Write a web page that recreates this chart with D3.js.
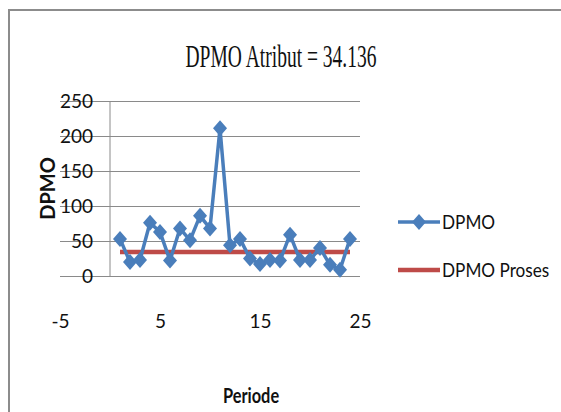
<!DOCTYPE html>
<html>
<head>
<meta charset="utf-8">
<script src="https://cdn.jsdelivr.net/npm/d3@7"></script>
<style>
  html, body { margin: 0; padding: 0; background: #fff; }
  text { fill: #111; }
</style>
</head>
<body>
<div id="chart"></div>
<script>
const width = 561;
const height = 412;

// data
const periods = [1, 2, 3, 4, 5, 6, 7, 8, 9, 10, 11, 12, 13, 14, 15, 16, 17, 18, 19, 20, 21, 22, 23, 24];
const dpmo = [53, 20, 23, 76, 63, 22, 68, 51, 86, 68, 211, 44, 53, 25, 17, 23, 22, 59, 23, 23, 40, 16, 9, 53];
const dpmoProses = 34.136;
const yTicks = [0, 50, 100, 150, 200, 250];
const xTicks = [-5, 5, 15, 25];
const seriesNames = ["DPMO", "DPMO Proses"];
const titleText = "DPMO Atribut = 34.136";

const BLUE = "#4a7ebb";
const RED = "#be4b48";
const GRID = "#8a8a8a";

var svg = d3.select("#chart").append("svg")
  .attr("width", width)
  .attr("height", height);

// outer chart frame (only left and top edges visible)
svg.append("path")
  .attr("d", "M9,412 V10 H561")
  .attr("fill", "none")
  .attr("stroke", "#8c8c8c")
  .attr("stroke-width", 2);

let xScale = d3.scaleLinear().domain([-5, 25]).range([60, 360]);
let yScale = d3.scaleLinear().domain([0, 250]).range([276, 101]);

// squeeze text horizontally (source fonts are narrow)
function squeeze(sel, sx, origin) {
  sel.style("transform-box", "fill-box")
    .style("transform-origin", origin || "center")
    .style("transform", "scaleX(" + sx + ")");
}

// horizontal gridlines
svg.append("g")
  .attr("transform", "translate(360,0)")
  .call(d3.axisLeft(yScale).tickValues(yTicks).tickSize(300).tickFormat(""))
  .call((g) => g.select(".domain").remove())
  .call((g) => g.selectAll("line").attr("stroke", GRID));

// vertical axis line at x = 0
svg.append("line")
  .attr("x1", xScale(0)).attr("x2", xScale(0))
  .attr("y1", yScale(250)).attr("y2", yScale(0))
  .attr("stroke", GRID);

// y tick labels
svg.append("g")
  .attr("transform", "translate(" + (xScale(0) - 17) + ",0)")
  .call(d3.axisLeft(yScale).tickValues(yTicks).tickSize(0).tickPadding(0))
  .call((g) => g.select(".domain").remove())
  .call((g) => g.selectAll("text")
    .attr("fill", "#111")
    .style("font-family", "Lato, sans-serif")
    .style("font-size", "19px"));

// x tick labels (plain hyphen for the minus sign, as in the source)
svg.append("g")
  .attr("transform", "translate(0," + yScale(0) + ")")
  .call(d3.axisBottom(xScale).tickValues(xTicks).tickSize(0).tickPadding(39)
    .tickFormat((d) => String(d)))
  .call((g) => g.select(".domain").remove())
  .call((g) => g.selectAll("text")
    .attr("fill", "#111")
    .style("font-family", "Lato, sans-serif")
    .style("font-size", "19px"));

// DPMO Proses line
svg.append("line")
  .attr("x1", xScale(periods[0]))
  .attr("x2", xScale(periods[periods.length - 1]))
  .attr("y1", yScale(dpmoProses))
  .attr("y2", yScale(dpmoProses))
  .attr("stroke", RED)
  .attr("stroke-width", 4.5);

// DPMO series
let line = d3.line()
  .x((d, i) => xScale(periods[i]))
  .y((d) => yScale(d));

svg.append("path")
  .datum(dpmo)
  .attr("fill", "none")
  .attr("stroke", BLUE)
  .attr("stroke-width", 3.5)
  .attr("stroke-linejoin", "round")
  .attr("d", line);

const diamond = "M0,-8 L7,0 L0,8 L-7,0 Z";

svg.append("g")
  .selectAll(".pt")
  .data(dpmo)
  .enter()
  .append("path")
  .attr("class", "pt")
  .attr("d", diamond)
  .attr("fill", BLUE)
  .attr("transform", (d, i) => "translate(" + xScale(periods[i]) + "," + yScale(d) + ")");

// title
svg.append("text")
  .attr("x", 281)
  .attr("y", 67)
  .attr("text-anchor", "middle")
  .style("font-family", "'Liberation Serif', 'Times New Roman', serif")
  .style("font-size", "32px")
  .text(titleText)
  .call(squeeze, 0.61);

// axis titles
svg.append("text")
  .attr("transform", "translate(55," + ((yScale(0) + yScale(250)) / 2) + ") rotate(-90)")
  .attr("text-anchor", "middle")
  .style("font-family", "Lato, sans-serif")
  .style("font-weight", "bold")
  .style("font-size", "20px")
  .text("DPMO");

svg.append("text")
  .attr("x", 251)
  .attr("y", 403)
  .attr("text-anchor", "middle")
  .style("font-family", "Lato, sans-serif")
  .style("font-weight", "bold")
  .style("font-size", "20px")
  .text("Periode")
  .call(squeeze, 0.82);

// legend
let legend = svg.append("g");
let legendY = [222, 270];

legend.append("line")
  .attr("x1", 398).attr("x2", 440)
  .attr("y1", legendY[0]).attr("y2", legendY[0])
  .attr("stroke", BLUE).attr("stroke-width", 3.5);
legend.append("path")
  .attr("d", diamond)
  .attr("fill", BLUE)
  .attr("transform", "translate(419," + legendY[0] + ")");

legend.append("line")
  .attr("x1", 398).attr("x2", 440)
  .attr("y1", legendY[1]).attr("y2", legendY[1])
  .attr("stroke", RED).attr("stroke-width", 4.5);

seriesNames.forEach((name, i) => {
  legend.append("text")
    .attr("x", 442)
    .attr("y", legendY[i])
    .attr("dy", "0.35em")
    .style("font-family", "Lato, sans-serif")
    .style("font-size", "20px")
    .text(name)
    .call(squeeze, 0.86, "left center");
});
</script>
</body>
</html>
